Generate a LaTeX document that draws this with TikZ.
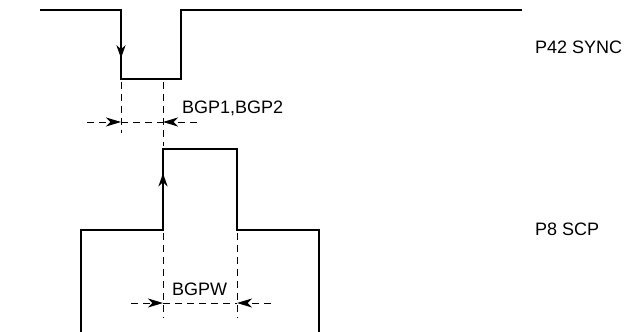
\documentclass[tikz,border=0pt]{standalone}
\usepackage{fontspec}
\setmainfont{Liberation Sans}
\usepackage{tikz}
\usetikzlibrary{positioning}
\usetikzlibrary{calc}
\usetikzlibrary{arrows.meta}
\tikzset{
	wave/.style={line width=2.3pt, line join=miter},
	dimline/.style={line width=1pt, dash pattern=on 7pt off 5pt},
	dimtip/.style={-{Stealth[length=15pt, width=9pt, inset=4.5pt]}},
	wavetip/.style={-{Stealth[length=13pt, width=9pt, inset=4pt]}},
	sig/.style={inner sep=0pt, anchor=base west, font=\fontsize{18}{20}\selectfont}
}

\begin{document}
\begin{tikzpicture}[x=1pt, y=-1pt]
	\useasboundingbox (0,0) rectangle (625,332);
	% P42 SYNC
	\coordinate (1a) at (40,10); \coordinate (1b) at (121,10); \coordinate (1c) at (121,79);
	\coordinate (1d) at (181,79); \coordinate (1e) at (181,10); \coordinate (1f) at (522,10);
	\draw [wave] (1a)--(1b)--(1c)--(1d)--(1e)--(1f);
	\draw [wave, wavetip] (1b)--($(1b)!0.7!(1c)$);
	\node [sig] at (535,53) (sync) {P42 SYNC};
	% P8 SCP
	\coordinate (2a) at (81,332); \coordinate (2b) at (81,230); \coordinate (2c) at (163,230); \coordinate (2d) at (163,149);
	\coordinate (2e) at (237,149); \coordinate (2f) at (237,230); \coordinate (2g) at (319,230); \coordinate (2h) at (319,332);
	\draw [wave] (2a)--(2b)--(2c)--(2d)--(2e)--(2f)--(2g)--(2h);
	\draw [wave, wavetip] (2c)--($(2c)!0.7!(2d)$);
	\node [sig] at (535,235) (scp) {P8 SCP};
	% BGP1,BGP2
	\coordinate (3l) at (121,133); \coordinate (3r) at (163,146);
	\draw [dimline] (121,82)--(3l); \draw [dimline] (163,82)--(3r);
	\coordinate (3a) at (87,122); \coordinate (3b) at (121,122); \coordinate (3c) at (163,122); \coordinate (3d) at (197,122);
	\draw [dimline, dimtip] (3a)--(3b); \draw [dimline] (3b)--(3c); \draw [dimline, dimtip] (3d)--(3c);
	\node [sig] at (182,113) (bgp) {BGP1,BGP2};
	% BGPW
	\draw [dimline] (163,233)--(163,318); \draw [dimline] (237,233)--(237,318);
	\coordinate (4a) at (131,303); \coordinate (4b) at (163,303); \coordinate (4c) at (237,303); \coordinate (4d) at (271,303);
	\draw [dimline, dimtip] (4a)--(4b); \draw [dimline] (4b)--(4c); \draw [dimline, dimtip] (4d)--(4c);
	\node [sig] at (172,295) (bgpw) {BGPW};
\end{tikzpicture}
\end{document}
